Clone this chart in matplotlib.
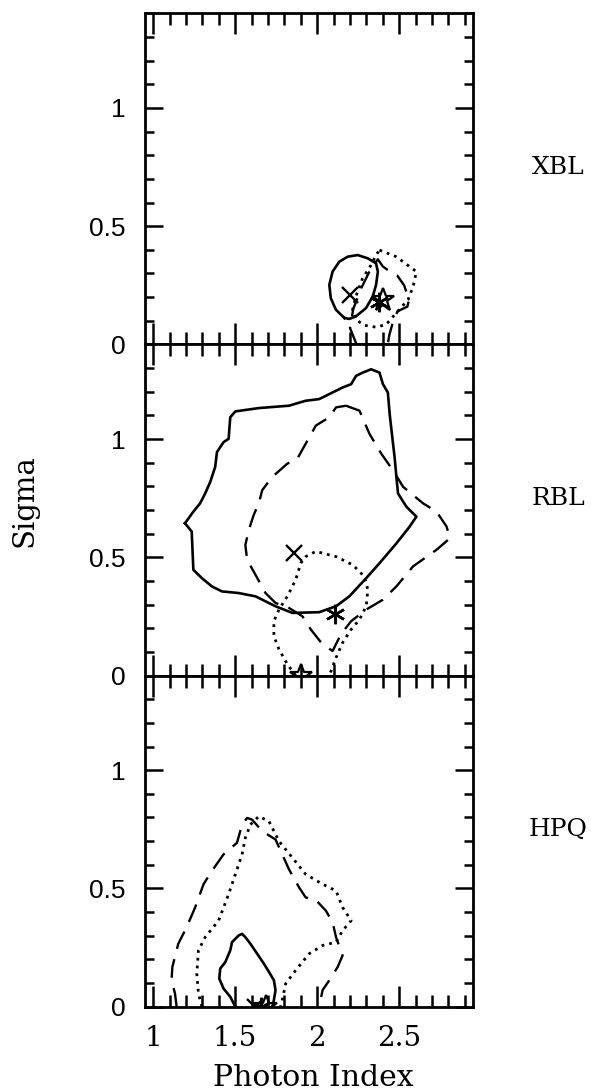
import matplotlib
matplotlib.use("Agg")
import matplotlib.pyplot as plt
from matplotlib.ticker import MultipleLocator, FixedLocator

panel_names = ["XBL", "RBL", "HPQ"]

# XBL contours (photon index, sigma)
xbl_solid_x = [2.166, 2.114, 2.083, 2.074, 2.094, 2.135, 2.186, 2.247, 2.309, 2.359,
               2.370, 2.359, 2.339, 2.298, 2.237, 2.196, 2.166]
xbl_solid_y = [0.112, 0.147, 0.196, 0.252, 0.308, 0.350, 0.371, 0.378, 0.364, 0.343,
               0.308, 0.252, 0.203, 0.154, 0.119, 0.108, 0.112]
xbl_dash_x = [2.24, 2.20, 2.22, 2.27, 2.32, 2.37, 2.40, 2.44, 2.49, 2.53, 2.56, 2.55,
              2.49, 2.46, 2.44, 2.43]
xbl_dash_y = [0.00, 0.07, 0.15, 0.24, 0.31, 0.36, 0.33, 0.31, 0.29, 0.25, 0.19, 0.16,
              0.14, 0.09, 0.04, 0.00]
xbl_dot_x = [2.380, 2.482, 2.605, 2.585, 2.554, 2.482, 2.420, 2.359, 2.288, 2.236,
             2.216, 2.236, 2.277, 2.329, 2.359, 2.380]
xbl_dot_y = [0.399, 0.371, 0.308, 0.245, 0.189, 0.133, 0.084, 0.073, 0.081, 0.105,
             0.147, 0.203, 0.280, 0.336, 0.378, 0.399]
xbl_best_x = [2.20, 2.38, 2.40]
xbl_best_y = [0.21, 0.18, 0.19]

# RBL contours
rbl_solid_x = [1.194, 1.235, 1.245, 1.297, 1.358, 1.419, 1.521, 1.624, 1.746, 1.849,
               2.012, 2.115, 2.196, 2.299, 2.380, 2.483, 2.564, 2.605, 2.544, 2.493,
               2.483, 2.472, 2.458, 2.442, 2.431, 2.401, 2.380, 2.329, 2.278, 2.237,
               2.207, 2.155, 2.094, 2.012, 1.930, 1.828, 1.644, 1.501, 1.470, 1.460,
               1.429, 1.389, 1.378, 1.348, 1.317, 1.286, 1.245, 1.194]
rbl_solid_y = [0.644, 0.609, 0.447, 0.412, 0.377, 0.356, 0.349, 0.335, 0.293, 0.265,
               0.268, 0.293, 0.335, 0.412, 0.475, 0.559, 0.630, 0.672, 0.714, 0.770,
               0.840, 0.924, 1.008, 1.106, 1.197, 1.232, 1.281, 1.295, 1.281, 1.267,
               1.232, 1.218, 1.197, 1.169, 1.162, 1.141, 1.131, 1.117, 1.092, 1.001,
               0.987, 0.945, 0.882, 0.819, 0.770, 0.728, 0.693, 0.644]
rbl_dash_x = [2.176, 2.258, 2.319, 2.391, 2.462, 2.524, 2.646, 2.728, 2.789, 2.810,
              2.728, 2.585, 2.483, 2.401, 2.299, 2.207, 2.145, 2.094, 2.033, 1.961,
              1.910, 1.828, 1.746, 1.685, 1.624, 1.573, 1.562, 1.583, 1.613, 1.644,
              1.665, 1.726, 1.818, 1.879, 1.941, 1.992, 2.074, 2.115, 2.176]
rbl_dash_y = [1.141, 1.120, 1.022, 0.938, 0.868, 0.798, 0.728, 0.693, 0.630, 0.581,
              0.532, 0.462, 0.377, 0.321, 0.279, 0.230, 0.175, 0.104, 0.132, 0.195,
              0.251, 0.286, 0.307, 0.349, 0.426, 0.489, 0.552, 0.616, 0.679, 0.728,
              0.784, 0.840, 0.896, 0.917, 0.994, 1.057, 1.092, 1.134, 1.141]
rbl_dot_x = [1.869, 1.818, 1.767, 1.736, 1.736, 1.767, 1.818, 1.869, 1.900, 1.930,
             1.992, 2.115, 2.217, 2.288, 2.309, 2.299, 2.258, 2.207, 2.155, 2.115, 2.074]
rbl_dot_y = [0.000, 0.048, 0.111, 0.167, 0.230, 0.279, 0.335, 0.405, 0.475, 0.503,
             0.525, 0.503, 0.468, 0.419, 0.363, 0.293, 0.237, 0.195, 0.139, 0.076, 0.000]
rbl_best_x = [1.86, 2.11, 1.90]
rbl_best_y = [0.52, 0.26, 0.00]

# HPQ contours
hpq_solid_x = [1.501, 1.470, 1.429, 1.403, 1.409, 1.440, 1.470, 1.481, 1.521, 1.542,
               1.562, 1.593, 1.634, 1.675, 1.706, 1.736, 1.746, 1.736, 1.726]
hpq_solid_y = [0.000, 0.042, 0.077, 0.119, 0.161, 0.189, 0.238, 0.273, 0.301, 0.308,
               0.294, 0.266, 0.224, 0.182, 0.147, 0.112, 0.070, 0.028, 0.000]
hpq_dash_x = [1.143, 1.133, 1.112, 1.117, 1.153, 1.204, 1.256, 1.307, 1.358, 1.429,
              1.511, 1.542, 1.573, 1.603, 1.665, 1.746, 1.787, 1.828, 1.890, 1.930,
              1.992, 2.053, 2.094, 2.115, 2.155, 2.125, 2.074, 2.033, 2.012]
hpq_dash_y = [0.000, 0.056, 0.112, 0.168, 0.266, 0.336, 0.420, 0.518, 0.574, 0.644,
              0.693, 0.770, 0.798, 0.791, 0.742, 0.707, 0.644, 0.581, 0.504, 0.462,
              0.451, 0.406, 0.357, 0.294, 0.217, 0.168, 0.112, 0.070, 0.000]
hpq_dot_x = [1.297, 1.276, 1.266, 1.276, 1.317, 1.399, 1.460, 1.501, 1.542, 1.562,
             1.593, 1.644, 1.706, 1.767, 1.849, 1.930, 2.033, 2.115, 2.155, 2.207,
             2.155, 2.115, 2.033, 1.951, 1.869, 1.808, 1.787, 1.777]
hpq_dot_y = [0.000, 0.056, 0.140, 0.238, 0.294, 0.364, 0.476, 0.560, 0.644, 0.714,
             0.770, 0.805, 0.784, 0.700, 0.630, 0.560, 0.518, 0.490, 0.420, 0.364,
             0.322, 0.273, 0.259, 0.224, 0.154, 0.098, 0.028, 0.000]
hpq_best_x = [1.62, 1.66, 1.69]
hpq_best_y = [0.00, 0.00, 0.00]

x_ticks = [1, 1.5, 2, 2.5]
x_ticklabels = ["1", "1.5", "2", "2.5"]
y_ticks = [0, 0.5, 1]
y_ticklabels = ["0", "0.5", "1"]

panels = [
    (xbl_solid_x, xbl_solid_y, xbl_dash_x, xbl_dash_y, xbl_dot_x, xbl_dot_y, xbl_best_x, xbl_best_y),
    (rbl_solid_x, rbl_solid_y, rbl_dash_x, rbl_dash_y, rbl_dot_x, rbl_dot_y, rbl_best_x, rbl_best_y),
    (hpq_solid_x, hpq_solid_y, hpq_dash_x, hpq_dash_y, hpq_dot_x, hpq_dot_y, hpq_best_x, hpq_best_y),
]

fig, axes = plt.subplots(3, 1, figsize=(5.91, 10.92), dpi=100, sharex=True)
fig.subplots_adjust(left=0.2453, right=0.8003, bottom=0.0781, top=0.9878, hspace=0)

serif = "DejaVu Serif"
sans = "Liberation Sans"

for ax, name, p in zip(axes, panel_names, panels):
    sx, sy, dx, dy, ox, oy, bx, by = p
    ax.plot(sx, sy, color="black", lw=1.9, solid_joinstyle="round")
    ax.plot(dx, dy, color="black", lw=1.7, dashes=(8, 4.5))
    ax.plot(ox, oy, color="black", lw=2.0, linestyle=(0, (1.0, 1.8)))

    ax.plot(bx[0], by[0], marker="x", ms=11, mew=1.7, color="black", linestyle="none")
    ax.plot(bx[1], by[1], marker=(6, 2, 0), ms=14, mew=1.8, color="black", linestyle="none")
    ax.plot(bx[2], by[2], marker="*", ms=17, mew=1.6, mfc="none", mec="black", linestyle="none")

    ax.set_xlim(0.95, 2.95)
    ax.set_ylim(0, 1.4)
    ax.xaxis.set_major_locator(FixedLocator(x_ticks))
    ax.xaxis.set_minor_locator(MultipleLocator(0.1))
    ax.yaxis.set_major_locator(FixedLocator(y_ticks))
    ax.yaxis.set_minor_locator(MultipleLocator(0.1))
    ax.set_yticklabels(y_ticklabels, fontfamily=sans, fontsize=19)
    ax.tick_params(which="both", direction="in", top=True, right=True, width=1.8)
    ax.tick_params(axis="x", which="major", length=15)
    ax.tick_params(axis="x", which="minor", length=8.5)
    ax.tick_params(axis="y", which="major", length=13)
    ax.tick_params(axis="y", which="minor", length=6.5)
    ax.tick_params(axis="y", pad=14)
    for sp in ax.spines.values():
        sp.set_linewidth(2.0)

    ax.text(1.26, 0.75, name, transform=ax.get_yaxis_transform(), ha="center",
            va="center", fontfamily=serif, fontsize=18)

axes[-1].set_xticklabels(x_ticklabels, fontfamily=serif, fontsize=20)
axes[-1].tick_params(axis="x", pad=13)

fig.text(0.53, 0.013, "Photon Index", ha="center", va="center", fontfamily=serif, fontsize=21.5)
fig.text(0.042, 0.542, "Sigma", ha="center", va="center", rotation=90,
         fontfamily=serif, fontsize=21)

fig.savefig("out.png", dpi=100)
